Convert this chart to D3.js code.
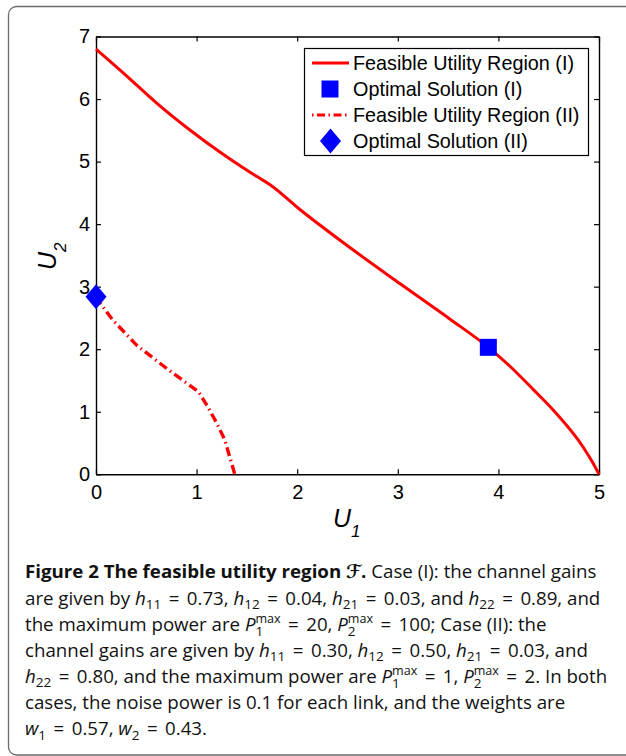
<!DOCTYPE html>
<html>
<head>
<meta charset="utf-8">
<script src="https://cdnjs.cloudflare.com/ajax/libs/d3/7.8.5/d3.min.js"></script>
<style>
  body { margin: 0; background: #ffffff; }
  svg text { font-family: "Liberation Sans", Arial, Helvetica, sans-serif; }
  .caption text { font-family: "Open Sans", "Noto Sans", sans-serif; font-size: 18.6px; fill: #111; }
</style>
</head>
<body>
<div id="chart"></div>
<script>
// values
var u1Case1 = [0, 0.27, 0.6, 0.93, 1.27, 1.6, 1.73, 2.03, 2.52, 3.02, 3.52, 3.9, 4.12, 4.35, 4.56, 4.84, 4.94, 5.0];
var u2Case1 = [6.8, 6.42, 5.94, 5.51, 5.11, 4.76, 4.63, 4.23, 3.63, 3.05, 2.48, 2.03, 1.72, 1.35, 1.0, 0.44, 0.18, 0];
var u1Case2 = [0, 0.04, 0.16, 0.40, 0.72, 1.02, 1.11, 1.20, 1.28, 1.38];
var u2Case2 = [2.84, 2.74, 2.48, 2.07, 1.67, 1.32, 1.08, 0.82, 0.55, 0];
var optimal1 = [3.9, 2.03];
var optimal2 = [0, 2.84];
var xTicks = [0, 1, 2, 3, 4, 5];
var yTicks = [0, 1, 2, 3, 4, 5, 6, 7];
var legendLabels = ["Feasible Utility Region (I)", "Optimal Solution (I)", "Feasible Utility Region (II)", "Optimal Solution (II)"];

// caption runs: n normal, b bold, bs bold script, i italic, sub subscript, ss subscript+"max"
var captionLines = [
  [["b", "Figure 2 The feasible utility region "], ["bs", "\u2131"], ["b", "."], ["n", " Case (I): the channel gains"]],
  [["n", "are given by "], ["i", "h"], ["sub", "11"], ["n", " = 0.73, "], ["i", "h"], ["sub", "12"], ["n", " = 0.04, "], ["i", "h"], ["sub", "21"], ["n", " = 0.03, and "], ["i", "h"], ["sub", "22"], ["n", " = 0.89, and"]],
  [["n", "the maximum power are "], ["i", "P"], ["ss", "1"], ["n", " = 20, "], ["i", "P"], ["ss", "2"], ["n", " = 100; Case (II): the"]],
  [["n", "channel gains are given by "], ["i", "h"], ["sub", "11"], ["n", " = 0.30, "], ["i", "h"], ["sub", "12"], ["n", " = 0.50, "], ["i", "h"], ["sub", "21"], ["n", " = 0.03, and"]],
  [["i", "h"], ["sub", "22"], ["n", " = 0.80, and the maximum power are "], ["i", "P"], ["ss", "1"], ["n", " = 1, "], ["i", "P"], ["ss", "2"], ["n", " = 2. In both"]],
  [["n", "cases, the noise power is 0.1 for each link, and the weights are"]],
  [["i", "w"], ["sub", "1"], ["n", " = 0.57, "], ["i", "w"], ["sub", "2"], ["n", " = 0.43."]]
];

var width = 626, height = 756;
var plot = {left: 96, right: 599, top: 36.5, bottom: 474.3};

var svg = d3.select("#chart")
    .append("svg")
    .attr("width", width)
    .attr("height", height);

// rounded frame around the figure
svg.append("rect")
    .attr("x", 8.5).attr("y", 6.5)
    .attr("width", 700).attr("height", 748.5)
    .attr("rx", 8).attr("ry", 8)
    .attr("fill", "none")
    .attr("stroke", "#6a6a6a")
    .attr("stroke-width", 1.3);

var x = d3.scaleLinear().domain([0, 5]).range([plot.left, plot.right]);
var y = d3.scaleLinear().domain([0, 7]).range([plot.bottom, plot.top]);

var axisFont = 20;

var gx = svg.append("g")
    .attr("transform", "translate(0," + plot.bottom + ")")
    .call(d3.axisBottom(x).tickValues(xTicks).tickSize(-5).tickSizeOuter(0).tickPadding(11).tickFormat(d3.format("d")));
var gy = svg.append("g")
    .attr("transform", "translate(" + plot.left + ",0)")
    .call(d3.axisLeft(y).tickValues(yTicks).tickSize(-5).tickSizeOuter(0).tickPadding(6).tickFormat(d3.format("d")));
var gt = svg.append("g")
    .attr("transform", "translate(0," + plot.top + ")")
    .call(d3.axisTop(x).tickValues(xTicks).tickSize(-5).tickSizeOuter(0).tickFormat(""));
var gr = svg.append("g")
    .attr("transform", "translate(" + plot.right + ",0)")
    .call(d3.axisRight(y).tickValues(yTicks).tickSize(-5).tickSizeOuter(0).tickFormat(""));

[gx, gy, gt, gr].forEach(function(g){
    g.selectAll("path.domain").attr("stroke", "#000").attr("stroke-width", 1.4);
    g.selectAll(".tick line").attr("stroke", "#000").attr("stroke-width", 1.2);
    g.selectAll(".tick text")
        .attr("fill", "#000")
        .style("font-family", "'Liberation Sans', Arial, sans-serif")
        .style("font-size", axisFont + "px");
});

// axis labels
var xl = svg.append("text")
    .attr("x", 333).attr("y", 527)
    .style("font-size", "25px");
xl.append("tspan").style("font-style", "italic").text("U");
xl.append("tspan").attr("dy", 10).style("font-size", "17px").style("font-style", "italic").text("1");

var yl = svg.append("text")
    .attr("transform", "translate(56,270) rotate(-90)")
    .style("font-size", "25px");
yl.append("tspan").style("font-style", "italic").text("U");
yl.append("tspan").attr("dy", 10).style("font-size", "17px").style("font-style", "italic").text("2");

// curves
var smooth = d3.line()
    .curve(d3.curveMonotoneX)
    .x(function(d){ return x(d[0]); })
    .y(function(d){ return y(d[1]); });
var line = d3.line()
    .x(function(d){ return x(d[0]); })
    .y(function(d){ return y(d[1]); });

svg.append("path")
    .datum(d3.zip(u1Case1, u2Case1))
    .attr("d", smooth)
    .attr("fill", "none")
    .attr("stroke", "#ff0000")
    .attr("stroke-width", 3);

svg.append("path")
    .datum(d3.zip(u1Case2, u2Case2))
    .attr("d", line)
    .attr("fill", "none")
    .attr("stroke", "#ff0000")
    .attr("stroke-width", 3.4)
    .attr("stroke-dasharray", "9,4,1.5,4");

var squarePath = "M-8.5,-8.5H8.5V8.5H-8.5Z";
var diamondPath = "M0,-12.5L10.5,0L0,12.5L-10.5,0Z";

svg.append("path")
    .attr("d", squarePath)
    .attr("transform", "translate(" + x(optimal1[0]) + "," + y(optimal1[1]) + ")")
    .attr("fill", "#0000ff");

svg.append("path")
    .attr("d", diamondPath)
    .attr("transform", "translate(" + x(optimal2[0]) + "," + y(optimal2[1]) + ")")
    .attr("fill", "#0000ff");

// legend
var legend = svg.append("g");
legend.append("rect")
    .attr("x", 304.5).attr("y", 48.5)
    .attr("width", 284).attr("height", 107)
    .attr("fill", "#fff")
    .attr("stroke", "#000")
    .attr("stroke-width", 1.2);

var rowY = function(i){ return 70 + i * 26; };

legend.append("line")
    .attr("x1", 312).attr("x2", 349)
    .attr("y1", rowY(0) - 7).attr("y2", rowY(0) - 7)
    .attr("stroke", "#ff0000").attr("stroke-width", 3);
legend.append("path")
    .attr("d", squarePath)
    .attr("transform", "translate(330," + (rowY(1) - 7) + ")")
    .attr("fill", "#0000ff");
legend.append("line")
    .attr("x1", 312).attr("x2", 349)
    .attr("y1", rowY(2) - 7).attr("y2", rowY(2) - 7)
    .attr("stroke", "#ff0000").attr("stroke-width", 2.8)
    .attr("stroke-dasharray", "1.5,3.5,8,3.5");
legend.append("path")
    .attr("d", diamondPath)
    .attr("transform", "translate(330.5," + (rowY(3) - 7) + ")")
    .attr("fill", "#0000ff");

legend.selectAll("text.lab")
    .data(legendLabels)
    .enter().append("text")
    .attr("class", "lab")
    .attr("x", 353)
    .attr("y", function(d, i){ return rowY(i); })
    .style("font-size", "19.8px")
    .attr("fill", "#000")
    .text(function(d){ return d; });

// caption
var cap = svg.append("g").attr("class", "caption");
var eqPad = 2.6;

captionLines.forEach(function(runs, li){
    var t = cap.append("text")
        .attr("x", 0)
        .attr("y", 578.5 + li * 26.1);
    var cur = 0;
    // every tspan carries its own shift back to the wanted baseline offset
    function add(txt, level, size){
        var sp = t.append("tspan").attr("dy", level - cur).text(txt);
        if (size) sp.style("font-size", size);
        cur = level;
        return sp;
    }
    runs.forEach(function(r){
        var kind = r[0], txt = r[1];
        if (kind === "sub") {
            add(txt, 4.5, "13.5px");
        } else if (kind === "ss") {
            var s = add(txt, 5, "13.5px");
            var w = s.node().getComputedTextLength();
            add("max", -8, "12.5px").attr("dx", -w);
        } else if (kind === "n" && txt.indexOf(" = ") >= 0) {
            // math-style spacing around the equals sign
            txt.split(" = ").forEach(function(p, k){
                if (k > 0) {
                    add(" =", 0).attr("dx", eqPad);
                    add(" " + p, 0).attr("dx", eqPad);
                } else if (p.length) {
                    add(p, 0);
                }
            });
        } else {
            var sp = add(txt, 0);
            if (kind === "b") sp.style("font-weight", "bold");
            if (kind === "i") sp.style("font-style", "italic");
            if (kind === "bs") sp.style("font-weight", "bold").style("font-style", "italic")
                .style("font-family", "'DejaVu Serif', 'DejaVu Sans', serif");
        }
    });
});

// squeeze caption horizontally so the first line spans the same width as the original
var firstW = cap.select("text").node().getBBox().width;
var sx = 572 / firstW;
cap.attr("transform", "translate(25,0) scale(" + sx + ",1)");
</script>
</body>
</html>
